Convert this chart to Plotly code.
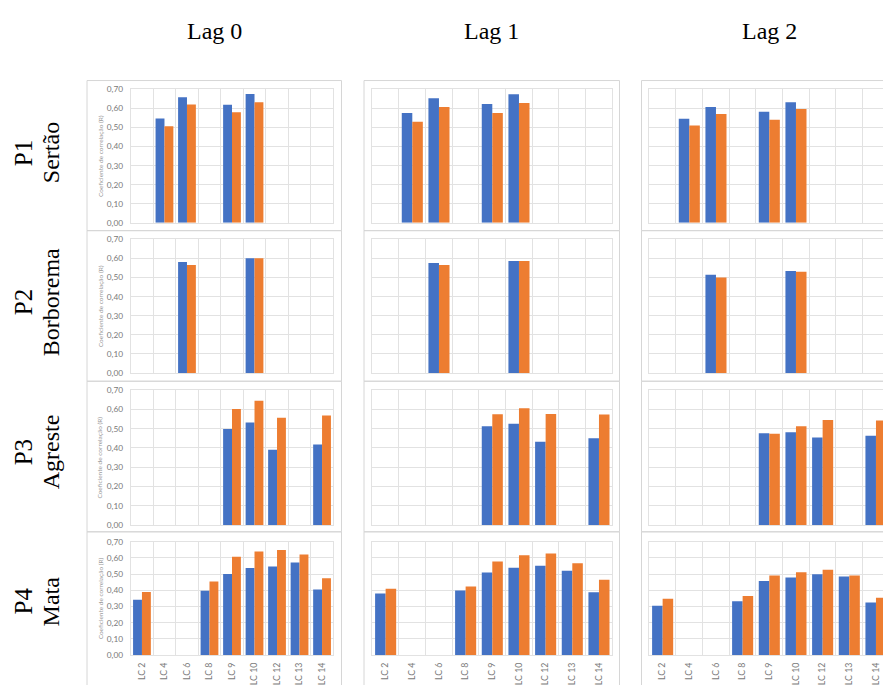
import plotly.graph_objects as go

# Categories on the x axis
categories = ["LC 2", "LC 4", "LC 6", "LC 8", "LC 9", "LC 10", "LC 12", "LC 13", "LC 14"]

# Column and row headings
lags = ["Lag 0", "Lag 1", "Lag 2"]
regions = ["P1", "P2", "P3", "P4"]
region_names = ["Sertão", "Borborema", "Agreste", "Mata"]
y_title = "Coeficiente de correlação (R)"
y_ticks = [0.0, 0.1, 0.2, 0.3, 0.4, 0.5, 0.6, 0.7]

# Correlation coefficients, series A (blue) and series B (orange)
sertao_lag0_a = [None, 0.547, 0.659, None, 0.619, 0.676, None, None, None]
sertao_lag0_b = [None, 0.507, 0.621, None, 0.580, 0.633, None, None, None]
sertao_lag1_a = [None, 0.576, 0.654, None, 0.623, 0.674, None, None, None]
sertao_lag1_b = [None, 0.530, 0.607, None, 0.576, 0.628, None, None, None]
sertao_lag2_a = [None, 0.546, 0.607, None, 0.582, 0.633, None, None, None]
sertao_lag2_b = [None, 0.510, 0.571, None, 0.540, 0.597, None, None, None]

borborema_lag0_a = [None, None, 0.582, None, None, 0.602, None, None, None]
borborema_lag0_b = [None, None, 0.566, None, None, 0.602, None, None, None]
borborema_lag1_a = [None, None, 0.576, None, None, 0.587, None, None, None]
borborema_lag1_b = [None, None, 0.566, None, None, 0.587, None, None, None]
borborema_lag2_a = [None, None, 0.515, None, None, 0.535, None, None, None]
borborema_lag2_b = [None, None, 0.500, None, None, 0.530, None, None, None]

agreste_lag0_a = [None, None, None, None, 0.498, 0.532, 0.391, None, 0.418]
agreste_lag0_b = [None, None, None, None, 0.603, 0.646, 0.557, None, 0.569]
agreste_lag1_a = [None, None, None, None, 0.513, 0.526, 0.432, None, 0.450]
agreste_lag1_b = [None, None, None, None, 0.575, 0.606, 0.577, None, 0.574]
agreste_lag2_a = [None, None, None, None, 0.477, 0.482, 0.454, None, 0.464]
agreste_lag2_b = [None, None, None, None, 0.474, 0.513, 0.545, None, 0.543]

mata_lag0_a = [0.341, None, None, 0.397, 0.500, 0.537, 0.547, 0.571, 0.405]
mata_lag0_b = [0.389, None, None, 0.454, 0.607, 0.639, 0.648, 0.621, 0.474]
mata_lag1_a = [0.380, None, None, 0.398, 0.509, 0.539, 0.551, 0.521, 0.388]
mata_lag1_b = [0.410, None, None, 0.423, 0.577, 0.616, 0.626, 0.567, 0.465]
mata_lag2_a = [0.304, None, None, 0.332, 0.457, 0.479, 0.499, 0.485, 0.324]
mata_lag2_b = [0.348, None, None, 0.364, 0.491, 0.511, 0.527, 0.491, 0.354]

series = [
    [(sertao_lag0_a, sertao_lag0_b), (sertao_lag1_a, sertao_lag1_b), (sertao_lag2_a, sertao_lag2_b)],
    [(borborema_lag0_a, borborema_lag0_b), (borborema_lag1_a, borborema_lag1_b), (borborema_lag2_a, borborema_lag2_b)],
    [(agreste_lag0_a, agreste_lag0_b), (agreste_lag1_a, agreste_lag1_b), (agreste_lag2_a, agreste_lag2_b)],
    [(mata_lag0_a, mata_lag0_b), (mata_lag1_a, mata_lag1_b), (mata_lag2_a, mata_lag2_b)],
]

W, H = 883, 685
BLUE, ORANGE = "#4472C4", "#ED7D31"
GRID = "#e2e2e2"
FRAME = "#d6d6d6"
TICK_COLOR = "#7a7a7a"


def fx(p):
    return p / W


def fy(p):
    return 1 - p / H


# Pixel geometry of the panels
frames_x = [(87, 341.5), (364, 619.5), (641.5, 900)]
frames_y = [(77, 230), (230, 383.5), (383.5, 537), (537, 700)]
plot_x = [(130.7, 333.3), (372.3, 612.3), (649.3, 883)]
plot_y = [(86, 222), (239, 375), (392.7, 530), (547, 662.7)]
# the third column is cut off at the right edge of the page
x_ranges = [[-0.5, 8.5], [-0.5, 8.5], [-0.5, 8.5 - (889.3 - 883) / 26.67]]

fig = go.Figure()
layout = dict(
    width=W, height=H,
    margin=dict(l=0, r=0, t=0, b=0),
    paper_bgcolor="white", plot_bgcolor="white",
    showlegend=False,
    bargap=0.21, bargroupgap=0,
    barmode="group",
    separators=", ",
    font=dict(family="Lato", size=8, color=TICK_COLOR),
)

shapes = []
annotations = []

for r in range(4):
    for c in range(3):
        k = r * 3 + c + 1
        xa = f"x{k}" if k > 1 else "x"
        ya = f"y{k}" if k > 1 else "y"
        a_vals, b_vals = series[r][c]
        fig.add_trace(go.Bar(x=categories, y=a_vals, marker=dict(color=BLUE, line=dict(width=0)),
                             xaxis=xa, yaxis=ya, offsetgroup="a"))
        fig.add_trace(go.Bar(x=categories, y=b_vals, marker=dict(color=ORANGE, line=dict(width=0)),
                             xaxis=xa, yaxis=ya, offsetgroup="b"))

        xkey = "xaxis" if k == 1 else f"xaxis{k}"
        ykey = "yaxis" if k == 1 else f"yaxis{k}"
        layout[xkey] = dict(
            domain=[fx(plot_x[c][0]), fx(plot_x[c][1])],
            anchor=ya,
            type="category",
            categoryorder="array", categoryarray=categories,
            range=x_ranges[c],
            tickson="boundaries",
            showgrid=True, gridcolor=GRID, gridwidth=1,
            showline=True, linecolor=GRID, linewidth=1, mirror=True,
            ticks="",
            tickangle=-90,
            showticklabels=(r == 3),
            ticklabelstandoff=3,
            tickfont=dict(family="Lato", size=8.8, color=TICK_COLOR),
            fixedrange=True,
        )
        layout[ykey] = dict(
            domain=[fy(plot_y[r][1]), fy(plot_y[r][0])],
            anchor=xa,
            range=[0, 0.7],
            tickvals=y_ticks,
            tickformat=".2f",
            showgrid=True, gridcolor=GRID, gridwidth=1,
            zeroline=False,
            showline=True, linecolor=GRID, linewidth=1, mirror=(c < 2),
            ticks="",
            showticklabels=(c == 0),
            ticklabelstandoff=5,
            tickfont=dict(family="Lato", size=8.3, color=TICK_COLOR),
            fixedrange=True,
        )

        # chart frame
        shapes.append(dict(type="rect", xref="paper", yref="paper",
                           x0=fx(frames_x[c][0]), x1=fx(frames_x[c][1]),
                           y0=fy(frames_y[r][1]), y1=fy(frames_y[r][0]),
                           line=dict(color=FRAME, width=1), layer="below"))

        # y-axis title on the first column
        if c == 0:
            annotations.append(dict(
                text=y_title, xref="paper", yref="paper",
                x=fx(100), y=fy((plot_y[r][0] + plot_y[r][1]) / 2),
                textangle=-90, showarrow=False,
                xanchor="center", yanchor="middle",
                font=dict(family="Lato", size=6.5, color="#9a9a9a"),
            ))

# Column headings
for c, lag in enumerate(lags):
    annotations.append(dict(
        text=lag, xref="paper", yref="paper",
        x=fx((frames_x[c][0] + frames_x[c][0] + 255) / 2), y=fy(27),
        showarrow=False, xanchor="center", yanchor="middle",
        font=dict(family="Liberation Serif", size=24, color="black"),
    ))

# Row headings
row_centers = [151, 303, 456, 608]
for r in range(4):
    annotations.append(dict(
        text=regions[r], xref="paper", yref="paper",
        x=fx(23), y=fy(row_centers[r]), textangle=-90,
        showarrow=False, xanchor="center", yanchor="middle",
        font=dict(family="Liberation Serif", size=25, color="black"),
    ))
    annotations.append(dict(
        text=region_names[r], xref="paper", yref="paper",
        x=fx(51), y=fy(row_centers[r]), textangle=-90,
        showarrow=False, xanchor="center", yanchor="middle",
        font=dict(family="Liberation Serif", size=24, color="black"),
    ))

layout["shapes"] = shapes
layout["annotations"] = annotations
fig.update_layout(**layout)

fig.write_html("out.html")
